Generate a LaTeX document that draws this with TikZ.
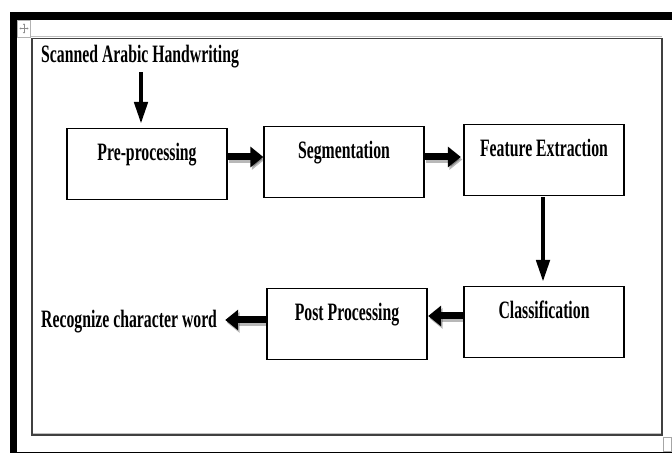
\documentclass[tikz,border=0pt]{standalone}
\usepackage{fontspec}
\newfontfamily\lblfont{Liberation Serif}[FakeStretch=0.63]
\usetikzlibrary{arrows.meta,calc}
\begin{document}
\begin{tikzpicture}[x=1pt,y=-1pt,
  txt/.style={font=\lblfont\bfseries\fontsize{25}{30}\selectfont},
  box/.style={txt, draw=black, line width=1.3pt, minimum width=160pt,
    inner xsep=0pt, inner ysep=0pt, text height=32pt, text depth=39pt, anchor=north},
  lbl/.style={txt, inner sep=0pt},
  harrow/.style={line width=7pt, -{Triangle[width=20pt,length=13pt]}},
  hshadow/.style={harrow, draw=black, opacity=0.28, transform canvas={shift={(1.5pt,-2.5pt)}}},
  varrow/.style={line width=4.5pt, -{Triangle[width=13pt,length=22pt]}},
  frameline/.style={draw=black!75, line width=1.5pt}
]
% canvas and outer frame
\fill[white] (0,0) rectangle (672,454);
\useasboundingbox (0,0) rectangle (672,454);
\fill[black] (10,12) rectangle (672,20);
\fill[black] (10,12) rectangle (17,453);
\draw[black, line width=1pt] (17,452.5) -- (672,452.5);
% inner frame
\draw[black!25, line width=1pt] (31,37) -- (662,37);
\draw[black!25, line width=1pt] (33,433.5) -- (661,433.5);
\draw[frameline] (32,38.5) rectangle (662,435);
% move handle icon
\draw[black!30, line width=0.8pt, fill=white] (17.5,20.5) rectangle (30.5,37);
\draw[black!45, line width=0.6pt, {Stealth[length=1.5pt,width=2pt]}-{Stealth[length=1.5pt,width=2pt]}] (24,23.5) -- (24,33.5);
\draw[black!45, line width=0.6pt, {Stealth[length=1.5pt,width=2pt]}-{Stealth[length=1.5pt,width=2pt]}] (19.5,28.5) -- (28.5,28.5);
% resize handle
\draw[black!35, line width=0.8pt, fill=white] (663.5,437.5) rectangle (671.5,451.5);
% nodes
\node[lbl, anchor=base west] (scan) at (41,63) {Scanned Arabic Handwriting};
\node[box] (pre) at (147,128) {Pre-processing};
\node[box] (seg) at (344,126) {Segmentation};
\node[box] (feat) at (544,124) {Feature Extraction};
\node[box] (cls) at (544,286) {Classification};
\node[box] (post) at (347,288) {Post Processing};
\node[lbl, anchor=base west] (rec) at (41,327) {Recognize character word};
% connectors
\draw[varrow, shorten <=3.5pt, shorten >=4pt] (scan.south -| 141,0) -- (pre.north -| 141,0);
\draw[hshadow] (pre.east |- 0,157) -- (seg.west |- 0,157);
\draw[harrow] (pre.east |- 0,157) -- (seg.west |- 0,157);
\draw[hshadow, shorten >=2.5pt] (seg.east |- 0,157) -- (feat.west |- 0,157);
\draw[harrow, shorten >=2.5pt] (seg.east |- 0,157) -- (feat.west |- 0,157);
\draw[varrow, shorten <=1pt, shorten >=4pt] (feat.south -| 543,0) -- (cls.north -| 543,0);
\draw[hshadow, shorten >=0.5pt] (cls.west |- 0,316) -- (post.east |- 0,316);
\draw[harrow, shorten >=0.5pt] (cls.west |- 0,316) -- (post.east |- 0,316);
\draw[hshadow, shorten >=8pt] (post.west |- 0,320) -- (rec.east |- 0,320);
\draw[harrow, shorten >=8pt] (post.west |- 0,320) -- (rec.east |- 0,320);
\end{tikzpicture}
\end{document}
